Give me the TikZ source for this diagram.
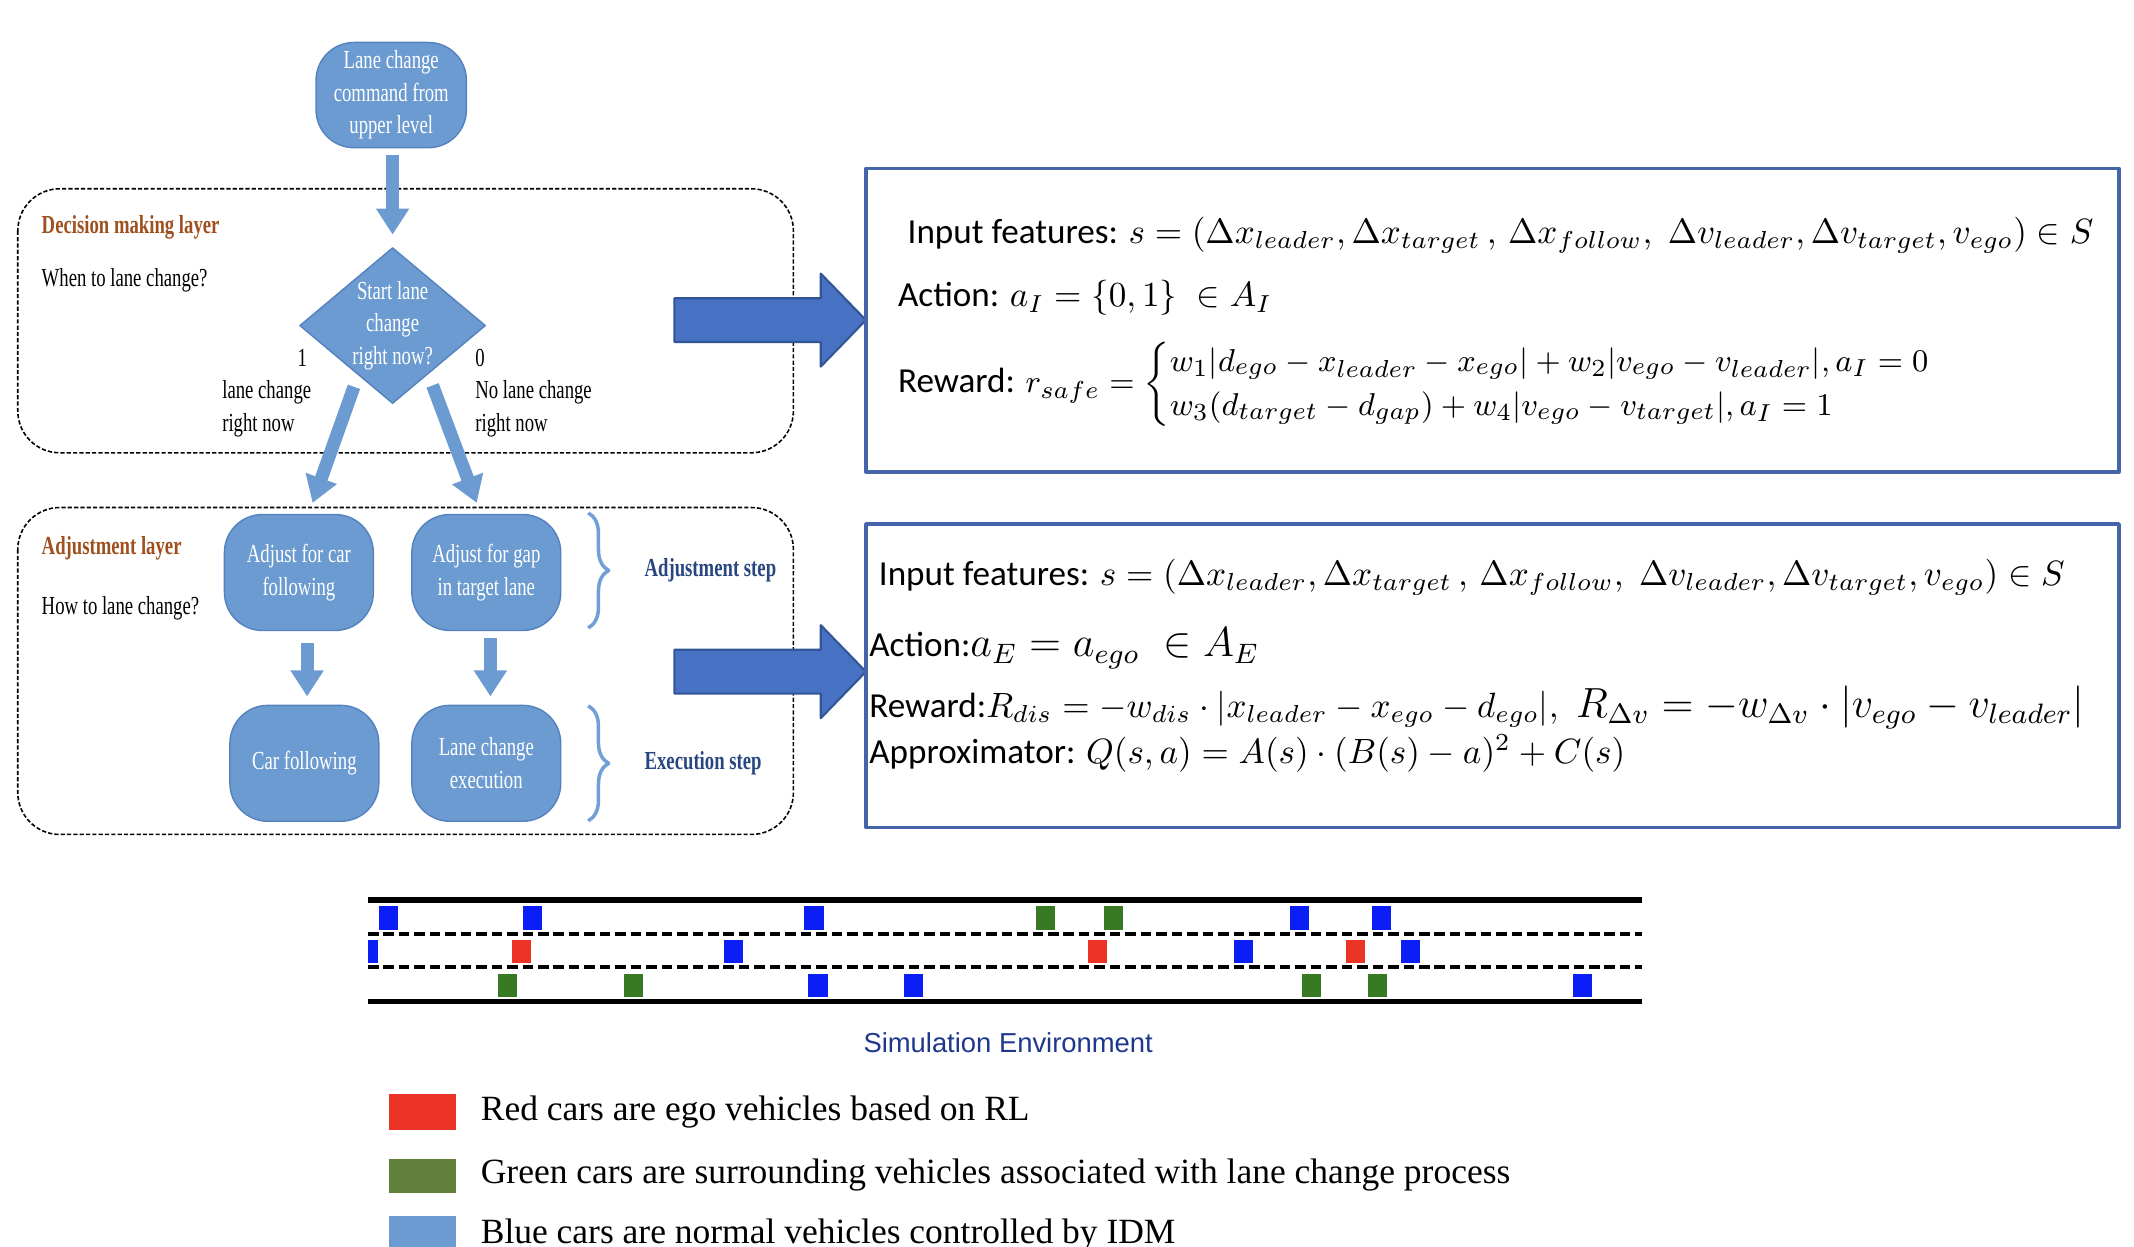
\documentclass[tikz,border=0pt]{standalone}
\usepackage{fontspec}
\setmainfont{Liberation Serif}
\newfontfamily\narrowserif[FakeStretch=0.72]{Liberation Serif}
\newfontfamily\calibrifont{Carlito}
\newfontfamily\arialfont{Liberation Sans}
\usetikzlibrary{shapes.geometric,arrows.meta,decorations.pathreplacing,calc}

\definecolor{nodeblue}{RGB}{107,155,208}
\definecolor{nodeedge}{RGB}{84,130,190}
\definecolor{layerbrown}{RGB}{158,80,30}
\definecolor{stepblue}{RGB}{40,70,128}
\definecolor{braceblue}{RGB}{112,160,214}
\definecolor{arrowblue}{RGB}{71,114,196}
\definecolor{arrowedge}{RGB}{50,85,150}
\definecolor{boxblue}{RGB}{70,100,170}
\definecolor{simblue}{RGB}{30,55,140}
\definecolor{carblue}{RGB}{10,30,245}
\definecolor{cargreen}{RGB}{56,122,36}
\definecolor{carred}{RGB}{236,52,38}
\definecolor{keygreen}{RGB}{96,128,60}
\definecolor{keyblue}{RGB}{108,155,210}

\tikzset{
  flowbox/.style={rectangle, rounded corners=0.38cm, fill=nodeblue, draw=nodeedge, line width=0.4pt,
    text=white, align=center, font=\narrowserif\fontsize{7.4}{9.3}\selectfont,
    minimum width=1.49cm, minimum height=1.16cm, inner sep=1pt},
  decision/.style={diamond, aspect=1.2, fill=nodeblue, draw=nodeedge, line width=0.4pt,
    text=white, align=center, font=\narrowserif\fontsize{7.4}{9.3}\selectfont,
    minimum width=1.86cm, minimum height=1.56cm, inner sep=-1pt},
  note/.style={inner sep=0pt, align=left, font=\narrowserif\fontsize{7.4}{9.3}\selectfont},
  layertitle/.style={inner sep=0pt, anchor=west, text=layerbrown, font=\narrowserif\bfseries\fontsize{7.4}{9.3}\selectfont},
  steplabel/.style={midway, right=0.547cm, inner sep=0pt, text=stepblue, font=\narrowserif\bfseries\fontsize{7.4}{9.3}\selectfont},
  stepbrace/.style={decorate, decoration={brace, amplitude=0.205cm, aspect=0.5}, draw=braceblue, line width=1pt},
  layerbox/.style={draw=black, line width=0.45pt, dash pattern=on 1.2pt off 0.6pt, rounded corners=0.42cm},
  blockarrow/.style={draw=nodeblue, line width=3.7pt, -{Triangle[width=0.315cm, length=0.26cm]}},
  bigarrow/.style={fill=arrowblue, draw=arrowedge, line width=0.6pt},
  infobox/.style={draw=boxblue, line width=1pt},
  eqline/.style={anchor=west, inner sep=0pt, font=\calibrifont\fontsize{10}{12}\selectfont},
  roadedge/.style={line width=1.5pt},
  lanemark/.style={line width=1.2pt, dash pattern=on 3pt off 1.4pt},
  simlabel/.style={inner sep=0pt, text=simblue, font=\arialfont\fontsize{7.8}{9}\selectfont},
  legendtext/.style={anchor=west, inner sep=0pt, font=\fontsize{10.1}{12}\selectfont}
}

\begin{document}
\begin{tikzpicture}[x=0.01368cm, y=-0.01368cm, line join=round]
\useasboundingbox (0,0) rectangle (1560,911);
% the two layers
\draw[layerbox] (13,138) rectangle (580,331);
\draw[layerbox] (13,371) rectangle (580,610);
\node[layertitle] (dectitle) at (30,166) {Decision making layer};
\node[note, anchor=west] (decask) at (30,205) {When to lane change?};
\node[layertitle] (adjtitle) at (30,401) {Adjustment layer};
\node[note, anchor=west] (adjask) at (30,445) {How to lane change?};

% flow chart
\node[flowbox, minimum width=1.505cm, minimum height=1.053cm] (cmd) at (286,69.5) {Lane change\\command from\\upper level};
\node[decision] (start) at (287,238) {Start lane\\change\\right now?};
\node[flowbox] (adjcar) at (218.5,418.5) {Adjust for car\\following};
\node[flowbox] (adjgap) at (355.5,418.5) {Adjust for gap\\in target lane};
\node[flowbox] (carfol) at (222.5,558) {Car following};
\node[flowbox] (lcexec) at (355.5,558) {Lane change\\execution};

\node[note] (yes) at (221,262) {1};
\node[note, anchor=west] (yeslbl) at (162,299) {lane change\\right now};
\node[note] (no) at (351,262) {0};
\node[note, anchor=west] (nolbl) at (347,299) {No lane change\\right now};

\draw[blockarrow] ($(cmd.south)+(1,5)$) -- ($(start.north)+(0,-9)$);
\draw[blockarrow] ($(start.south west)+(6,16)$) -- ($(adjcar.north)+(10,-8)$);
\draw[blockarrow] ($(start.south east)+(-5,15)$) -- ($(adjgap.north)+(-7,-8)$);
\draw[blockarrow] ($(adjcar.south)+(6,9)$) -- ($(carfol.north)+(2,-6)$);
\draw[blockarrow] ($(adjgap.south)+(3,5)$) -- ($(lcexec.north)+(3,-6)$);

% steps
\coordinate (adjtop) at (430,375);
\coordinate (adjbot) at (430,459);
\coordinate (exetop) at (430,516);
\coordinate (exebot) at (430,600);
\draw[stepbrace] (adjtop) -- (adjbot) node[steplabel] (adjstep) {Adjustment step};
\draw[stepbrace] (exetop) -- (exebot) node[steplabel] (exestep) {Execution step};

% to the agents
\foreach \y in {234,491}
  \draw[bigarrow] (493,\y-16) -- (600,\y-16) -- (600,\y-34) -- (633,\y) -- (600,\y+34) -- (600,\y+16) -- (493,\y+16) -- cycle;

\draw[infobox] (633,123) rectangle (1549,345);
\draw[infobox] (633,383) rectangle (1549,605);

\node[eqline] (feat1) at (663,172) {Input features: $s=(\Delta x_{leader},\Delta x_{target}\,,\,\Delta x_{follow},\;\Delta v_{leader},\Delta v_{target},v_{ego})\in S$};
\node[eqline] (act1) at (656,218) {Action: $a_I=\{0,1\}\;\in A_I$};
\node[eqline] (rew1) at (656,281) {Reward: {\fontsize{9.3}{11}\selectfont$r_{safe}=\left\{\renewcommand{\arraystretch}{1.15}\begin{array}{@{}l@{}}
  w_1|d_{ego}-x_{leader}-x_{ego}|+w_2|v_{ego}-v_{leader}|,a_I=0\\
  w_3(d_{target}-d_{gap})+w_4|v_{ego}-v_{target}|,a_I=1
  \end{array}\right.$}};

\node[eqline] (feat2) at (642,422) {Input features: $s=(\Delta x_{leader},\Delta x_{target}\,,\,\Delta x_{follow},\;\Delta v_{leader},\Delta v_{target},v_{ego})\in S$};
\node[eqline] (act2) at (635,474) {Action:{\large$a_E=a_{ego}\;\in A_E$}};
\node[eqline] (rew2) at (635,517) {Reward:$R_{dis}=-w_{dis}\cdot|x_{leader}-x_{ego}-d_{ego}|,$\; {\large$R_{\Delta v}=-w_{\Delta v}\cdot\left|v_{ego}-v_{leader}\right|$}};
\node[eqline] (apx2) at (635,551) {Approximator: $Q(s,a)=A(s)\cdot(B(s)-a)^2+C(s)$};

% road
\draw[roadedge] (269,658) -- (1200,658);
\draw[roadedge] (269,732) -- (1200,732);
\draw[lanemark] (269,683) -- (1200,683);
\draw[lanemark] (269,707) -- (1200,707);
\foreach \x/\c in {284/carblue,389/carblue,595/carblue,764/cargreen,814/cargreen,950/carblue,1010/carblue}
  \fill[\c] (\x-7,662) rectangle (\x+7,680);
\fill[carblue] (269,687) rectangle (276,704);
\foreach \x/\c in {381/carred,536/carblue,802/carred,909/carblue,991/carred,1031/carblue}
  \fill[\c] (\x-7,687) rectangle (\x+7,704);
\foreach \x/\c in {371/cargreen,463/cargreen,598/carblue,668/carblue,959/cargreen,1007/cargreen,1157/carblue}
  \fill[\c] (\x-7,712) rectangle (\x+7,729);
\node[simlabel] (simenv) at (737,762) {Simulation Environment};

% legend
\fill[carred] (284,800) rectangle (333,826);
\fill[keygreen] (284,847) rectangle (333,872);
\fill[keyblue] (284,889) rectangle (333,914);
\node[legendtext] (keyred) at (351,813) {Red cars are ego vehicles based on RL};
\node[legendtext] (keygrn) at (351,859) {Green cars are surrounding vehicles associated with lane change process};
\node[legendtext] (keyblu) at (351,903) {Blue cars are normal vehicles controlled by IDM};
\end{tikzpicture}
\end{document}
